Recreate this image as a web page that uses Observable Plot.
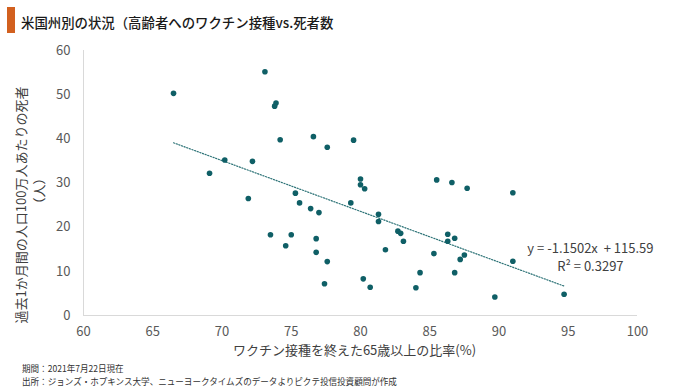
<!DOCTYPE html>
<html><head><meta charset="utf-8">
<script src="https://cdn.jsdelivr.net/npm/d3@7"></script>
<script src="https://cdn.jsdelivr.net/npm/@observablehq/plot@0.6"></script>
<style>
body{margin:0;background:#fff;font-family:"Noto Sans CJK JP",sans-serif;}
#wrap{position:relative;width:680px;height:392px;overflow:hidden;background:#fff}
#bar{position:absolute;left:7px;top:7px;width:8px;height:26px;background:#d2601f}
#title{position:absolute;left:21px;top:11px;font-size:13.4px;line-height:22px;color:#1a1a1a;white-space:nowrap;font-weight:500}
#chart{position:absolute;left:0;top:40px}
#foot{position:absolute;left:22px;top:362px;font-size:9px;line-height:13.2px;color:#333;transform:scaleX(.95);transform-origin:left top;white-space:nowrap}
#foot div{height:13.2px}
</style>
</head><body>
<div id="wrap">
  <div id="bar"></div>
  <div id="title"></div>
  <div id="chart"></div>
  <div id="foot"></div>
</div>
<script>
const titleText = "米国州別の状況（高齢者へのワクチン接種vs.死者数";
const footLines = ["期間：2021年7月22日現在", "出所：ジョンズ・ホプキンス大学、ニューヨークタイムズのデータよりピクテ投信投資顧問が作成"];
const xLabel = "ワクチン接種を終えた65歳以上の比率(%)";
const yLabel1 = "過去1か月間の人口100万人あたりの死者";
const yLabel2 = "（人）";

const xTicks = [60, 65, 70, 75, 80, 85, 90, 95, 100];
const yTicks = [0, 10, 20, 30, 40, 50, 60];

// 65歳以上のワクチン接種完了率(%)
const vaccinated = [66.5,73.1,73.9,73.8,74.2,76.6,77.6,79.5,70.2,72.2,69.1,80.0,80.0,80.3,71.9,75.3,75.6,79.3,76.4,77.0,81.3,81.3,73.5,75.0,76.8,74.6,76.8,77.6,80.2,77.4,80.7,85.5,86.6,87.7,91.0,82.7,82.9,83.1,86.3,86.8,86.3,81.8,85.3,87.5,87.2,91.0,84.3,86.8,84.0,89.7,94.7];
// 過去1か月間の人口100万人あたり死者数
const deaths = [50.3,55.2,48.1,47.4,39.8,40.5,38.1,39.7,35.2,34.9,32.2,30.9,29.6,28.7,26.5,27.7,25.5,25.5,24.2,23.3,22.9,21.3,18.3,18.3,17.4,15.8,14.3,12.2,8.3,7.2,6.4,30.7,30.1,28.8,27.8,19.1,18.6,16.8,18.4,17.5,16.8,14.9,14.0,13.7,12.7,12.3,9.7,9.7,6.3,4.2,4.8];

// 近似直線 (チャート記載の式)
const slope = -1.1502;
const intercept = 115.59;
const eqTexts = ["y = -1.1502x  + 115.59", "R² = 0.3297"];
const eqX = [96.6, 96.6];
const eqY = [15.2, 11.1];

document.getElementById("title").textContent = titleText;
document.getElementById("foot").innerHTML = footLines.map(s => `<div>${s}</div>`).join("");

const points = vaccinated.map((x, i) => ({x, y: deaths[i]}));
const xExt = d3.extent(vaccinated);
const trend = xExt.map(x => ({x, y: slope * x + intercept}));
const eq = eqTexts.map((t, i) => ({t, x: eqX[i], y: eqY[i]}));

const font = '"Noto Sans CJK JP", sans-serif';
const plot = Plot.plot({
  width: 680, height: 320,
  marginLeft: 83, marginRight: 43, marginTop: 10, marginBottom: 45,
  style: {fontFamily: font, fontSize: "13px", color: "#595959", background: "transparent", overflow: "visible"},
  x: {domain: [60, 100], ticks: xTicks, label: null, tickSize: 0, tickPadding: 11},
  y: {domain: [0, 60], ticks: yTicks, label: null, tickSize: 0, tickPadding: 13},
  marks: [
    Plot.ruleY([0], {stroke: "#d9d9d9"}),
    Plot.ruleX([60], {stroke: "#d9d9d9"}),
    Plot.line(trend, {x: "x", y: "y", stroke: "#2d7377", strokeWidth: 1.2, strokeDasharray: "1.2,1.6"}),
    Plot.dot(points, {x: "x", y: "y", r: 2.8, fill: "#0f5f66", stroke: null}),
    Plot.text(eq, {x: "x", y: "y", text: "t", fontSize: 13, fill: "#404040"}),
    Plot.text([yLabel1], {text: d => d, frameAnchor: "left", textAnchor: "middle", lineAnchor: "middle", rotate: -90, dx: -62, dy: 22, fontSize: 13, fill: "#404040"}),
    Plot.text([yLabel2], {text: d => d, frameAnchor: "left", textAnchor: "middle", lineAnchor: "middle", rotate: -90, dx: -44, dy: 8, fontSize: 13, fill: "#404040"}),
    Plot.text([xLabel], {text: d => d, frameAnchor: "bottom", lineAnchor: "middle", dx: -6, dy: 35, fontSize: 13, fill: "#404040"})
  ]
});
document.getElementById("chart").appendChild(plot);
</script>
</body></html>
